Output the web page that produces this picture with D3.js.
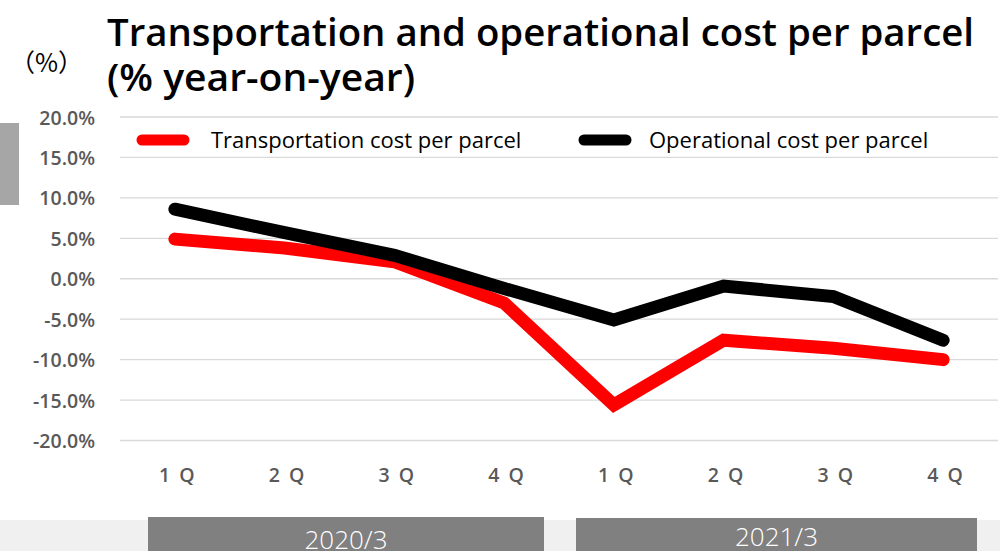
<!DOCTYPE html>
<html>
<head>
<meta charset="utf-8">
<script src="https://cdn.jsdelivr.net/npm/d3@7"></script>
<style>
  body { margin: 0; background: #fff; }
  svg { display: block; font-family: "Open Sans", "Noto Sans", sans-serif; }
</style>
</head>
<body>
<div id="chart"></div>
<script>
// data
var quarters = ["1Q", "2Q", "3Q", "4Q", "1Q", "2Q", "3Q", "4Q"];
var fiscalYears = ["2020/3", "2021/3"];
var transportCost = [4.9, 3.8, 2.1, -3.0, -15.6, -7.6, -8.6, -10.0];
var operationalCost = [8.6, 5.7, 2.9, -1.2, -5.1, -0.9, -2.2, -7.6];
var yTicks = [20, 15, 10, 5, 0, -5, -10, -15, -20];
var seriesNames = ["Transportation cost per parcel", "Operational cost per parcel"];

var chart = {
    svgWidth: 1000,
    svgHeight: 551,
    margin: {"top": 117, "bottom": 110, "left": 120, "right": 2},
};
chart.chartWidth = chart.svgWidth - (chart.margin.left + chart.margin.right);

var svg = d3.select("#chart").append("svg")
    .attr("width", chart.svgWidth)
    .attr("height", chart.svgHeight);

var xScale = d3.scaleBand()
    .domain(d3.range(quarters.length))
    .range([chart.margin.left, chart.margin.left + chart.chartWidth]);

var yScale = d3.scaleLinear()
    .domain([-20, 20])
    .range([440.5, 117]);

// gridlines
svg.append("g")
    .selectAll("line")
    .data(yTicks)
    .enter().append("line")
    .attr("x1", chart.margin.left)
    .attr("x2", chart.margin.left + chart.chartWidth)
    .attr("y1", d => yScale(d))
    .attr("y2", d => yScale(d))
    .attr("stroke", "#d9d9d9")
    .attr("stroke-width", 1.3);

// y axis labels
var yAxis = d3.axisLeft(yScale)
    .tickValues(yTicks)
    .tickSize(0)
    .tickPadding(0)
    .tickFormat(d => d.toFixed(1) + "%");

svg.append("g")
    .attr("transform", "translate(95, 0)")
    .call(yAxis)
    .call(g => g.select(".domain").remove())
    .selectAll("text")
    .attr("font-family", "'Open Sans', sans-serif")
    .attr("font-size", 19.5)
    .attr("font-weight", 600)
    .attr("fill", "#595959")
    .attr("dy", "0.36em");

// x axis labels
var xAxis = d3.axisBottom(xScale)
    .tickSize(0)
    .tickFormat(i => quarters[i].split("").join(" "));

svg.append("g")
    .attr("transform", "translate(3, 465)")
    .call(xAxis)
    .call(g => g.select(".domain").remove())
    .selectAll("text")
    .attr("font-family", "'Open Sans', sans-serif")
    .attr("font-size", 19.5)
    .attr("font-weight", 600)
    .attr("fill", "#595959")
    .attr("letter-spacing", 2);

// lines
var line = d3.line()
    .x((d, i) => xScale(i) + xScale.bandwidth() / 2)
    .y(d => yScale(d));

var series = [
    {name: seriesNames[0], values: transportCost, color: "#ff0000"},
    {name: seriesNames[1], values: operationalCost, color: "#000000"},
];

svg.selectAll("path.series")
    .data(series)
    .enter().append("path")
    .attr("class", "series")
    .attr("d", d => line(d.values))
    .attr("fill", "none")
    .attr("stroke", d => d.color)
    .attr("stroke-width", 13)
    .attr("stroke-linecap", "round")
    .attr("stroke-linejoin", "miter");

// legend
var legendX = [137, 579];
var legend = svg.selectAll("g.legend")
    .data(series)
    .enter().append("g")
    .attr("class", "legend")
    .attr("transform", (d, i) => "translate(" + legendX[i] + ", 140)");

legend.append("line")
    .attr("x1", 5).attr("x2", 47)
    .attr("y1", 0).attr("y2", 0)
    .attr("stroke", d => d.color)
    .attr("stroke-width", 11)
    .attr("stroke-linecap", "round");

legend.append("text")
    .attr("x", (d, i) => i == 0 ? 74 : 70)
    .attr("y", 8)
    .attr("font-size", 22)
    .attr("fill", "#000")
    .text(d => d.name);

// title
svg.append("text")
    .attr("x", 107)
    .attr("y", 46)
    .attr("font-size", 38)
    .attr("font-weight", 600)
    .attr("textLength", 867)
    .attr("lengthAdjust", "spacingAndGlyphs")
    .text("Transportation and operational cost per parcel");

svg.append("text")
    .attr("x", 107)
    .attr("y", 91)
    .attr("font-size", 38)
    .attr("font-weight", 600)
    .attr("textLength", 308)
    .attr("lengthAdjust", "spacingAndGlyphs")
    .text("(% year-on-year)");

svg.append("text")
    .attr("x", 10)
    .attr("y", 72)
    .attr("font-family", "'Noto Sans CJK JP', sans-serif")
    .attr("font-size", 25)
    .attr("fill", "#000")
    .text("（%）");

// grey tab on the left
svg.append("rect")
    .attr("x", 0).attr("y", 123)
    .attr("width", 19).attr("height", 82)
    .attr("fill", "#a6a6a6");

// fiscal year band at the bottom
svg.append("rect")
    .attr("x", 0).attr("y", 520)
    .attr("width", chart.svgWidth).attr("height", 31)
    .attr("fill", "#f0f0f0");

var yearBoxes = [
    {label: fiscalYears[0], x0: 148, x1: 544, y: 517},
    {label: fiscalYears[1], x0: 576, x1: 977, y: 518},
];

var years = svg.selectAll("g.year")
    .data(yearBoxes)
    .enter().append("g")
    .attr("class", "year");

years.append("rect")
    .attr("x", d => d.x0)
    .attr("y", d => d.y)
    .attr("width", d => d.x1 - d.x0)
    .attr("height", d => chart.svgHeight - d.y)
    .attr("fill", "#808080");

years.append("text")
    .attr("x", d => (d.x0 + d.x1) / 2)
    .attr("y", (d, i) => i == 0 ? 549 : 546)
    .attr("text-anchor", "middle")
    .attr("font-size", 26)
    .attr("font-weight", 300)
    .attr("fill", "#fff")
    .text(d => d.label);
</script>
</body>
</html>
